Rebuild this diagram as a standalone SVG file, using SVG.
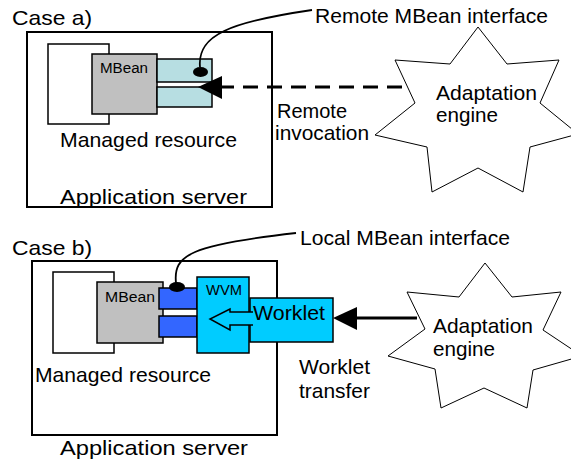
<svg xmlns="http://www.w3.org/2000/svg" width="571" height="462" viewBox="0 0 571 462">
<style>
text{font-family:"Liberation Sans",Arial,sans-serif;fill:#000}
.big{font-size:21px}
.small{font-size:14px}
.box{fill:#fff;stroke:#000;stroke-width:2}
.res{fill:#fff;stroke:#000;stroke-width:1.5}
.mbean{fill:#c0c0c0;stroke:#000;stroke-width:1.5}
.rif{fill:#b7dee2;stroke:#000;stroke-width:1.5}
.lif{fill:#3366ff;stroke:#000;stroke-width:1.5}
.cyan{fill:#00ccff;stroke:#000;stroke-width:1.5}
.star{fill:#fff;stroke:#000;stroke-width:1}
.curve{fill:none;stroke:#000;stroke-width:1.8}
</style>
<rect width="571" height="462" fill="#fff"/>

<!-- Case a -->
<text class="big" x="12" y="25" textLength="80" lengthAdjust="spacingAndGlyphs">Case a)</text>
<g id="appserver-a">
<rect class="box" x="27" y="32" width="245" height="175"/>
<text class="big" x="60" y="204" textLength="187" lengthAdjust="spacingAndGlyphs">Application server</text>
</g>
<g id="resource-a">
<rect class="res" x="48" y="44" width="61" height="80"/>
<text class="big" x="60" y="147" textLength="177" lengthAdjust="spacingAndGlyphs">Managed resource</text>
</g>
<g id="mbean-a">
<rect class="mbean" x="92" y="54" width="65" height="60"/>
<text class="small" x="100" y="73" textLength="48" lengthAdjust="spacingAndGlyphs">MBean</text>
</g>
<g id="remote-if">
<rect class="rif" x="157" y="59" width="55" height="23"/>
<rect class="rif" x="157" y="87" width="55" height="20"/>
<ellipse cx="200.5" cy="72" rx="7.5" ry="5" fill="#000"/>
</g>
<g id="engine-a">
<polygon class="star" points="478,27 507,64 559,60 540,103 578,134 530,147 523,192 478,168 432,192 427,147 375,135 415,103 395,60 450,64"/>
<text class="big" x="436" y="100" textLength="101" lengthAdjust="spacingAndGlyphs">Adaptation</text>
<text class="big" x="436" y="122" textLength="62" lengthAdjust="spacingAndGlyphs">engine</text>
</g>
<g id="label-remote-if">
<text class="big" x="315" y="23" textLength="233" lengthAdjust="spacingAndGlyphs">Remote MBean interface</text>
</g>
<g id="label-remote-inv">
<text class="big" x="277" y="118" textLength="70" lengthAdjust="spacingAndGlyphs">Remote</text>
<text class="big" x="275" y="140" textLength="94" lengthAdjust="spacingAndGlyphs">invocation</text>
</g>

<!-- Case b -->
<text class="big" x="12" y="255" textLength="80" lengthAdjust="spacingAndGlyphs">Case b)</text>
<g id="appserver-b">
<rect class="box" x="32" y="261" width="245" height="174"/>
<text class="big" x="60" y="455" textLength="188" lengthAdjust="spacingAndGlyphs">Application server</text>
</g>
<g id="resource-b">
<rect class="res" x="53" y="272" width="61" height="81"/>
<text class="big" x="35" y="382" textLength="176" lengthAdjust="spacingAndGlyphs">Managed resource</text>
</g>
<g id="mbean-b">
<rect class="mbean" x="97" y="282" width="66" height="61"/>
<text class="small" x="105" y="302" textLength="50" lengthAdjust="spacingAndGlyphs">MBean</text>
</g>
<g id="local-if">
<rect class="lif" x="159" y="288" width="38" height="21"/>
<rect class="lif" x="159" y="316" width="38" height="21"/>
<ellipse cx="177" cy="287" rx="8" ry="5" fill="#000"/>
</g>
<g id="wvm">
<rect class="cyan" x="197" y="277" width="52" height="76"/>
<text class="small" x="206" y="295" textLength="36" lengthAdjust="spacingAndGlyphs">WVM</text>
</g>
<g id="worklet">
<rect class="cyan" x="250" y="298" width="83" height="44"/>
<text class="big" x="253" y="320" textLength="72" lengthAdjust="spacingAndGlyphs">Worklet</text>
<path d="M253,312 H230 V309 L210,319 L230,330 V325 H253" fill="#00ccff" stroke="#000" stroke-width="1.5"/>
</g>
<g id="engine-b">
<polygon class="star" points="485,263 512,297 561,292 543,330 582,356 533,370 527,408 484,388 441,408 435,369 388,356 425,329 407,292 459,297"/>
<text class="big" x="433" y="333" textLength="100" lengthAdjust="spacingAndGlyphs">Adaptation</text>
<text class="big" x="433" y="356" textLength="62" lengthAdjust="spacingAndGlyphs">engine</text>
</g>
<g id="label-local-if">
<text class="big" x="300" y="245" textLength="210" lengthAdjust="spacingAndGlyphs">Local MBean interface</text>
</g>
<g id="label-transfer">
<text class="big" x="299" y="374" textLength="71" lengthAdjust="spacingAndGlyphs">Worklet</text>
<text class="big" x="299" y="398" textLength="71" lengthAdjust="spacingAndGlyphs">transfer</text>
</g>

<!-- connectors -->
<g id="connectors">
<path class="curve" d="M200,67 C197,35 230,22 312,10"/>
<path d="M402,87 H222" fill="none" stroke="#000" stroke-width="3" stroke-dasharray="15 9"/>
<polygon points="198,87 222,76 222,99" fill="#000"/>
<path class="curve" d="M176,283 C173,255 190,245 296,233"/>
<path d="M417,318 H355" fill="none" stroke="#000" stroke-width="3"/>
<polygon points="333,318 357,307 357,330" fill="#000"/>
</g>
</svg>
